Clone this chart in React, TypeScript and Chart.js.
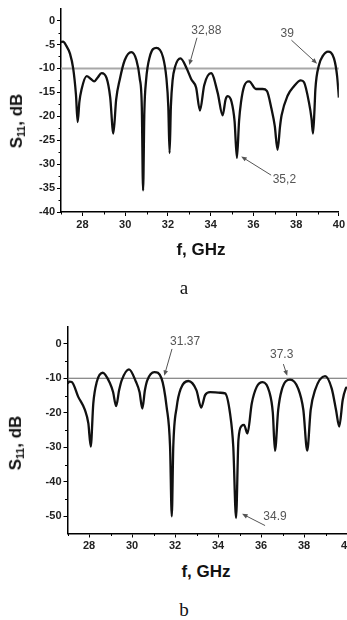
import React, { useEffect, useRef } from "react";
import { Chart, registerables } from "chart.js";

Chart.register(...registerables);

// ---------- data: panel a ----------
const freqA = [27.0, 27.1, 27.25, 27.42, 27.57, 27.7, 27.78, 27.86, 27.96, 28.2, 28.4, 28.55, 28.7, 28.9, 29.13, 29.3, 29.45, 29.58, 29.75, 29.98, 30.29, 30.53, 30.68, 30.78, 30.84, 30.9, 30.98, 31.15, 31.46, 31.77, 31.93, 32.02, 32.08, 32.14, 32.22, 32.34, 32.59, 32.88, 33.1, 33.32, 33.5, 33.7, 34.02, 34.33, 34.56, 34.7, 34.8, 34.98, 35.12, 35.23, 35.33, 35.42, 35.57, 35.8, 36.12, 36.43, 36.63, 36.85, 37.0, 37.13, 37.25, 37.32, 37.6, 37.9, 38.22, 38.37, 38.6, 38.72, 38.79, 38.86, 38.9, 39.07, 39.25, 39.49, 39.77, 39.92, 40.0];
const s11A = [-4.5, -4.4, -5.3, -6.9, -10.0, -15.5, -21.2, -17.0, -14.4, -11.6, -12.2, -12.7, -12.0, -11.0, -12.0, -16.0, -23.6, -16.5, -12.3, -8.3, -6.6, -8.3, -12.0, -18.0, -35.5, -19.0, -12.5, -7.6, -5.7, -7.6, -12.0, -18.0, -27.7, -18.0, -12.5, -9.6, -7.9, -10.0, -12.3, -14.0, -18.8, -13.5, -11.0, -15.1, -19.8, -16.5, -15.8, -17.0, -21.0, -28.7, -21.0, -17.1, -13.7, -12.7, -14.3, -14.3, -14.7, -18.5, -22.0, -27.0, -22.0, -19.8, -15.7, -13.7, -12.5, -12.9, -17.1, -20.5, -23.6, -18.5, -14.4, -9.3, -7.4, -6.5, -7.9, -11.7, -16.1];

// ---------- data: panel b ----------
const freqB = [27.0, 27.1, 27.2, 27.5, 27.81, 27.97, 28.08, 28.2, 28.36, 28.64, 28.98, 29.12, 29.26, 29.4, 29.52, 29.86, 30.19, 30.35, 30.48, 30.6, 30.71, 31.04, 31.37, 31.61, 31.77, 31.85, 31.92, 32.08, 32.27, 32.62, 33.0, 33.22, 33.4, 33.63, 34.1, 34.33, 34.56, 34.71, 34.84, 34.95, 35.1, 35.21, 35.37, 35.57, 35.8, 36.08, 36.39, 36.55, 36.65, 36.8, 36.96, 37.35, 37.73, 37.97, 38.15, 38.31, 38.51, 38.98, 39.29, 39.49, 39.64, 39.8, 39.94, 40.0];
const s11B = [-11.5, -11.0, -11.1, -15.4, -19.2, -23.1, -29.8, -17.3, -11.1, -8.4, -11.5, -14.0, -18.1, -13.5, -10.6, -7.4, -11.1, -14.0, -18.8, -13.5, -10.6, -8.2, -10.0, -18.3, -29.8, -50.0, -29.8, -18.3, -13.0, -10.8, -13.5, -18.5, -14.9, -14.0, -14.2, -14.4, -20.2, -29.8, -50.5, -27.9, -23.8, -23.5, -26.0, -17.3, -12.5, -11.1, -14.0, -20.0, -31.0, -19.2, -13.5, -10.4, -13.0, -19.2, -31.0, -19.2, -13.5, -9.4, -13.0, -19.2, -24.0, -16.3, -13.0, -12.5];

// ---------- axes ----------
const xMajor = [28, 30, 32, 34, 36, 38, 40];
const xMinor = [27, 29, 31, 33, 35, 37, 39];
const yMajorA = [-40, -35, -30, -25, -20, -15, -10, -5, 0];
const yMinorA = [-37.5, -32.5, -27.5, -22.5, -17.5, -12.5, -7.5, -2.5];
const yMajorB = [-50, -40, -30, -20, -10, 0];
const yMinorB = [-45, -35, -25, -15, -5];
const thresholdDb = -10;

// ---------- annotations (data coordinates) ----------
const markersA = [
  { text: "32,88", tx: 33.8, ty: -2.2, fx: 33.36, fy: -3.6, px: 33.0, py: -9.3 },
  { text: "39", tx: 37.58, ty: -2.8, fx: 37.78, fy: -4.1, px: 38.98, py: -9.0 },
  { text: "35,2", tx: 37.45, ty: -33.3, fx: 36.83, fy: -32.3, px: 35.43, py: -28.4 },
];
const markersB = [
  { text: "31.37", tx: 32.47, ty: 0.7, fx: 31.86, fy: -1.5, px: 31.5, py: -9.3 },
  { text: "37.3", tx: 36.96, ty: -3.1, fx: 37.04, fy: -5.9, px: 37.22, py: -9.3 },
  { text: "34.9", tx: 36.65, ty: -50.0, fx: 36.19, fy: -52.7, px: 35.12, py: -49.3 },
];

const SANS = "'Liberation Sans', Arial, Helvetica, sans-serif";
const SERIF = "'Liberation Serif', 'Times New Roman', serif";

const extrasPlugin = {
  id: "extras",
  afterDatasetsDraw(chart: any, _args: any, opts: any) {
    const { ctx, chartArea } = chart;
    const x = chart.scales.x;
    const y = chart.scales.y;
    ctx.save();
    // minor ticks
    ctx.strokeStyle = "#000";
    ctx.lineWidth = 1;
    (opts.xMinor || []).forEach((v: number) => {
      const p = Math.round(x.getPixelForValue(v)) + 0.5;
      ctx.beginPath();
      ctx.moveTo(p, chartArea.bottom);
      ctx.lineTo(p, chartArea.bottom + 2.5);
      ctx.stroke();
    });
    (opts.yMinor || []).forEach((v: number) => {
      const p = Math.round(y.getPixelForValue(v)) + 0.5;
      ctx.beginPath();
      ctx.moveTo(chartArea.left, p);
      ctx.lineTo(chartArea.left - 2.5, p);
      ctx.stroke();
    });
    // annotations
    ctx.font = `12px ${SANS}`;
    ctx.fillStyle = "#555";
    ctx.strokeStyle = "#555";
    ctx.textAlign = "center";
    ctx.textBaseline = "middle";
    (opts.markers || []).forEach((m: any) => {
      ctx.fillText(m.text, x.getPixelForValue(m.tx), y.getPixelForValue(m.ty));
      const x0 = x.getPixelForValue(m.fx);
      const y0 = y.getPixelForValue(m.fy);
      const x1 = x.getPixelForValue(m.px);
      const y1 = y.getPixelForValue(m.py);
      const a = Math.atan2(y1 - y0, x1 - x0);
      ctx.lineWidth = 1;
      ctx.beginPath();
      ctx.moveTo(x0, y0);
      ctx.lineTo(x1 - Math.cos(a) * 3, y1 - Math.sin(a) * 3);
      ctx.stroke();
      const hl = 5.5;
      const hw = 2.3;
      ctx.beginPath();
      ctx.moveTo(x1, y1);
      ctx.lineTo(x1 - hl * Math.cos(a) + hw * Math.sin(a), y1 - hl * Math.sin(a) - hw * Math.cos(a));
      ctx.lineTo(x1 - hl * Math.cos(a) - hw * Math.sin(a), y1 - hl * Math.sin(a) + hw * Math.cos(a));
      ctx.closePath();
      ctx.fill();
    });
    ctx.restore();
  },
};

type PanelProps = {
  freq: number[];
  s11: number[];
  yMin: number;
  yMax: number;
  yMajor: number[];
  yMinor: number[];
  markers: any[];
  width: number;
  height: number;
  yWidth: number;
  xHeight: number;
  padTop: number;
  padRight: number;
  thrColor: string;
  thrWidth: number;
  top: number;
};

function Panel(p: PanelProps) {
  const ref = useRef<HTMLCanvasElement | null>(null);
  useEffect(() => {
    if (!ref.current) return;
    const tickFont = { family: SANS, size: 11, weight: "bold" as const };
    const chart = new Chart(ref.current, {
      type: "line",
      data: {
        datasets: [
          {
            data: p.freq.map((f, i) => ({ x: f, y: p.s11[i] })),
            borderColor: "#111",
            borderWidth: 2.3,
            pointRadius: 0,
            cubicInterpolationMode: "monotone",
            order: 0,
          },
          {
            data: [
              { x: 27, y: thresholdDb },
              { x: 40, y: thresholdDb },
            ],
            borderColor: p.thrColor,
            borderWidth: p.thrWidth,
            pointRadius: 0,
            order: 1,
          },
        ],
      },
      options: {
        responsive: false,
        animation: false,
        devicePixelRatio: 1,
        layout: { padding: { top: p.padTop, right: p.padRight, left: 0, bottom: 0 } },
        plugins: {
          legend: { display: false },
          tooltip: { enabled: false },
          // @ts-ignore
          extras: { xMinor, yMinor: p.yMinor, markers: p.markers },
        },
        scales: {
          x: {
            type: "linear",
            min: 27,
            max: 40,
            afterBuildTicks: (s: any) => {
              s.ticks = xMajor.map((v) => ({ value: v }));
            },
            afterFit: (s: any) => {
              s.height = p.xHeight;
            },
            ticks: { font: tickFont, color: "#222", padding: 2, maxRotation: 0, autoSkip: false },
            grid: { drawOnChartArea: false, drawTicks: true, tickLength: 4, tickColor: "#000", tickWidth: 1 },
            border: { display: true, color: "#000", width: 1.5 },
          },
          y: {
            type: "linear",
            min: p.yMin,
            max: p.yMax,
            afterBuildTicks: (s: any) => {
              s.ticks = p.yMajor.map((v) => ({ value: v }));
            },
            afterFit: (s: any) => {
              s.width = p.yWidth;
            },
            ticks: { font: tickFont, color: "#222", padding: 2, autoSkip: false },
            grid: { drawOnChartArea: false, drawTicks: true, tickLength: 4, tickColor: "#000", tickWidth: 1 },
            border: { display: true, color: "#000", width: 1.5 },
          },
        },
      },
      plugins: [extrasPlugin],
    } as any);
    return () => chart.destroy();
  }, []);
  return (
    <canvas
      ref={ref}
      width={p.width}
      height={p.height}
      style={{ position: "absolute", left: 0, top: p.top, width: p.width, height: p.height }}
    />
  );
}

function Label(props: { x: number; y: number; font: string; rotate?: boolean; children: any }) {
  return (
    <div
      style={{
        position: "absolute",
        left: props.x,
        top: props.y,
        transform: `translate(-50%, -50%)${props.rotate ? " rotate(-90deg)" : ""}`,
        font: props.font,
        color: "#111",
        whiteSpace: "nowrap",
        lineHeight: 1,
      }}
    >
      {props.children}
    </div>
  );
}

const yTitle = (
  <span>
    S<sub style={{ fontSize: "0.62em", verticalAlign: "-0.25em" }}>11</sub>, dB
  </span>
);

export default function App() {
  return (
    <div
      style={{
        position: "absolute",
        left: 0,
        top: 0,
        width: 347,
        height: 620,
        overflow: "hidden",
        background: "#fff",
      }}
    >
      <Panel
        freq={freqA}
        s11={s11A}
        yMin={-40}
        yMax={2.5}
        yMajor={yMajorA}
        yMinor={yMinorA}
        markers={markersA}
        width={347}
        height={240}
        yWidth={61}
        xHeight={28}
        padTop={4}
        padRight={7}
        thrColor="#a8a8a8"
        thrWidth={2}
        top={0}
      />
      <Label x={17} y={121} font={`bold 17px ${SANS}`} rotate>
        {yTitle}
      </Label>
      <Label x={201} y={249} font={`bold 17px ${SANS}`}>
        f, GHz
      </Label>
      <Label x={184} y={287} font={`19px ${SERIF}`}>
        a
      </Label>

      <Panel
        freq={freqB}
        s11={s11B}
        yMin={-55}
        yMax={5}
        yMajor={yMajorB}
        yMinor={yMinorB}
        markers={markersB}
        width={360}
        height={250}
        yWidth={67.5}
        xHeight={26.5}
        padTop={16.5}
        padRight={13}
        thrColor="#666"
        thrWidth={1.2}
        top={310}
      />
      <Label x={16} y={443} font={`bold 17px ${SANS}`} rotate>
        {yTitle}
      </Label>
      <Label x={206} y={571} font={`bold 17px ${SANS}`}>
        f, GHz
      </Label>
      <Label x={184} y={609} font={`19px ${SERIF}`}>
        b
      </Label>
    </div>
  );
}
